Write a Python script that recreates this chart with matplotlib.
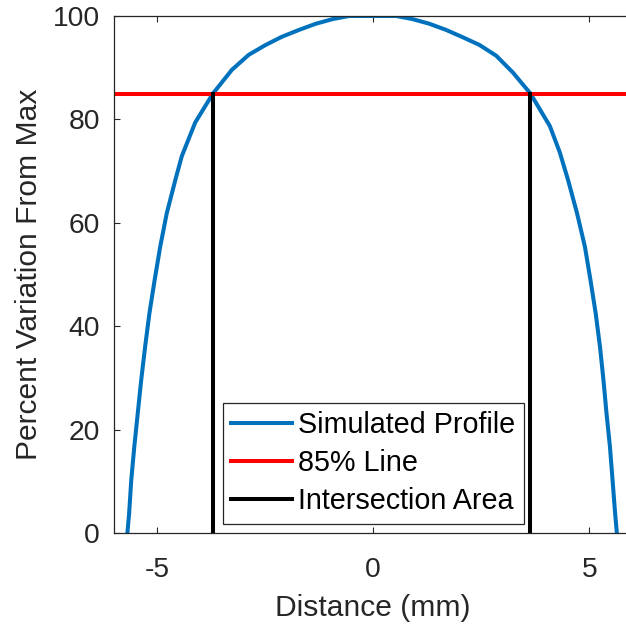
import matplotlib
matplotlib.use("Agg")
import matplotlib.pyplot as plt

# Data
distance_mm = [-5.69, -5.65, -5.60, -5.53, -5.45, -5.37, -5.28, -5.18, -5.06, -4.93,
               -4.78, -4.58, -4.43, -4.12, -3.71, -3.27, -2.88, -2.49, -2.11, -1.72,
               -1.33, -0.94, -0.56, 0.00, 0.53, 0.91, 1.30, 1.69, 2.07, 2.46,
               2.85, 3.23, 3.64, 4.09, 4.32, 4.51, 4.72, 4.90, 5.03, 5.15,
               5.25, 5.33, 5.40, 5.48, 5.54, 5.60, 5.64]
percent = [0.0, 3.8, 10.3, 16.7, 23.2, 29.6, 36.0, 42.5, 48.9, 55.4,
           61.8, 68.3, 72.9, 79.4, 85.0, 89.6, 92.5, 94.4, 96.0, 97.3,
           98.5, 99.4, 100.0, 100.0, 100.0, 99.4, 98.5, 97.3, 95.9, 94.4,
           92.3, 89.1, 85.0, 78.7, 73.6, 68.3, 61.8, 55.4, 48.9, 42.5,
           36.0, 29.6, 23.2, 16.7, 10.3, 3.8, 0.0]
line_level = 85
intersections = [-3.71, 3.64]
x_ticks = [-5, 0, 5]
y_ticks = [0, 20, 40, 60, 80, 100]
labels = ["Simulated Profile", "85% Line", "Intersection Area"]

plt.rcParams['font.family'] = ['Liberation Sans', 'DejaVu Sans']
plt.rcParams['axes.unicode_minus'] = False
fig = plt.figure(figsize=(6.26, 6.28), dpi=100)
ax = fig.add_axes([114/626, 95/628, (632.4-114)/626, 517/628])

gray = '#262626'
lw = 2.9
h1, = ax.plot(distance_mm, percent, color='#0072BD', lw=lw, label=labels[0],
              solid_joinstyle='round')
h2 = ax.axhline(line_level, color='#FF0000', lw=lw, label=labels[1])
h3 = None
for xi in intersections:
    h3, = ax.plot([xi, xi], [0, line_level], color='black', lw=lw)
h3.set_label(labels[2])

ax.set_xlim(-6, 6)
ax.set_ylim(0, 100)
ax.set_xticks(x_ticks)
ax.set_yticks(y_ticks)
ax.tick_params(direction='in', length=4, width=0.8, colors=gray, labelsize=20.3,
               top=True, right=True)
ax.tick_params(axis='x', pad=17.5)
ax.tick_params(axis='y', pad=10)
for s in ax.spines.values():
    s.set_color(gray)
    s.set_linewidth(0.9)
ax.set_xlabel('Distance (mm)', fontsize=21.6, color=gray, labelpad=8)
ax.set_ylabel('Percent Variation From Max', fontsize=21.6, color=gray, labelpad=7)

leg = ax.legend(handles=[h1, h2, h3], loc='lower left', bbox_to_anchor=(0.21, 0.0174),
                fontsize=20.7, frameon=True, fancybox=False, framealpha=1,
                edgecolor=gray, handlelength=2.1, handletextpad=0.22,
                borderpad=0.3, labelspacing=0.35, borderaxespad=0)
leg.get_frame().set_linewidth(0.9)

fig.savefig('out.png', dpi=100)
